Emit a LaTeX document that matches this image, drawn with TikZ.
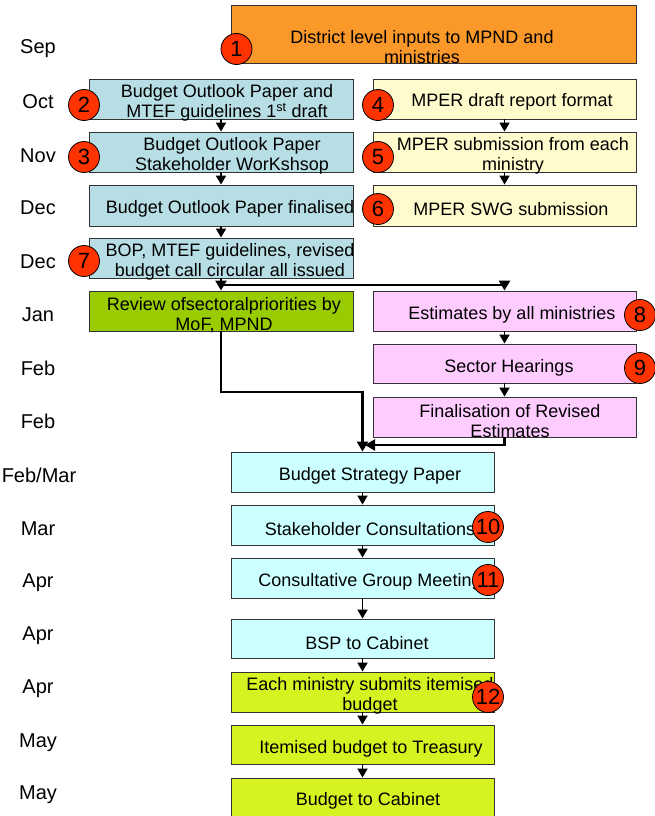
\documentclass[tikz,border=0pt]{standalone}
\usepackage{fontspec}
\setmainfont{Liberation Sans}
\usetikzlibrary{arrows.meta}
\definecolor{cOrange}{RGB}{250,152,42}
\definecolor{cBlue}{RGB}{183,222,228}
\definecolor{cYellow}{RGB}{255,251,204}
\definecolor{cGreen}{RGB}{153,204,0}
\definecolor{cPink}{RGB}{255,204,255}
\definecolor{cCyan}{RGB}{204,255,255}
\definecolor{cLime}{RGB}{214,242,32}
\definecolor{cRed}{RGB}{255,51,0}
\begin{document}
\begin{tikzpicture}[x=1pt,y=-1pt,
  box/.style={draw=black!80, line width=0.9pt, minimum width=263pt, minimum height=40pt, inner sep=0pt},
  txt/.style={font=\fontsize{18}{20.5}\selectfont, align=center, inner sep=0pt, yshift=-2pt},
  month/.style={font=\fontsize{20}{24}\selectfont, inner sep=0pt, yshift=-2pt},
  badge/.style={circle, draw=black, line width=0.8pt, fill=cRed, minimum size=31pt, inner sep=0pt, font=\fontsize{22}{24}\selectfont},
  arr/.style={-{Triangle[width=10pt,length=9pt]}, line width=1.8pt},
  link/.style={line width=2.4pt},
  larr/.style={-{Triangle[width=11pt,length=10pt]}, line width=2.4pt}
]
\useasboundingbox (0,0) rectangle (655,816);

% month labels
\node[month] (m1) at (38,47) {Sep};
\node[month] (m2) at (38,100) {Oct};
\node[month] (m3) at (38,154) {Nov};
\node[month] (m4) at (38,206) {Dec};
\node[month] (m5) at (38,260) {Dec};
\node[month] (m6) at (38,313) {Jan};
\node[month] (m7) at (38,366) {Feb};
\node[month] (m8) at (38,419) {Feb};
\node[month] (m9) at (39,473) {Feb/Mar};
\node[month] (m10) at (38,527) {Mar};
\node[month] (m11) at (38,581) {Apr};
\node[month] (m12) at (38,634) {Apr};
\node[month] (m13) at (38,687) {Apr};
\node[month] (m14) at (38,741) {May};
\node[month] (m15) at (38,793) {May};

% boxes
\node[box, fill=cOrange, minimum width=405pt, minimum height=58pt] (b1) at (433.5,34) {};
\node[box, fill=cBlue, minimum width=264pt] (b2) at (221,99) {};
\node[box, fill=cYellow] (b4) at (504.5,99) {};
\node[box, fill=cBlue, minimum width=264pt] (b3) at (221,152) {};
\node[box, fill=cYellow] (b5) at (504.5,152) {};
\node[box, fill=cBlue, minimum width=264pt, minimum height=41pt] (bd) at (221,205.5) {};
\node[box, fill=cYellow, minimum height=41pt] (b6) at (504.5,205.5) {};
\node[box, fill=cBlue, minimum width=264pt] (b7) at (221,258) {};
\node[box, fill=cGreen, minimum width=264pt] (bg) at (221,311) {};
\node[box, fill=cPink] (b8) at (504.5,311) {};
\node[box, fill=cPink, minimum height=39pt] (b9) at (504.5,363.5) {};
\node[box, fill=cPink] (bf) at (504.5,417) {};
\node[box, fill=cCyan] (bs) at (362.5,472) {};
\node[box, fill=cCyan] (b10) at (362.5,525) {};
\node[box, fill=cCyan] (b11) at (362.5,578) {};
\node[box, fill=cCyan, minimum height=39pt] (bc) at (362.5,638.5) {};
\node[box, fill=cLime] (b12) at (362.5,692) {};
\node[box, fill=cLime, minimum height=39pt] (bt) at (362.5,744.5) {};
\node[box, fill=cLime] (bb) at (362.5,798) {};

% texts
\node[txt] (t1) at (422,45) {District level inputs to MPND and\\ministries};
\node[txt] (t2) at (227,101) {Budget Outlook Paper and\\MTEF guidelines 1\textsuperscript{st} draft};
\node[txt] (t4) at (512,100) {MPER draft report format};
\node[txt] (t3) at (232,154) {Budget Outlook Paper\\Stakeholder WorKshsop};
\node[txt] (t5) at (513,154) {MPER submission from each\\ministry};
\node[txt] (td) at (230,207) {Budget Outlook Paper finalised};
\node[txt] (t6) at (511,207) {MPER SWG submission};
\node[txt] (t7) at (230,260) {BOP, MTEF guidelines, revised\\budget call circular all issued};
\node[txt] (tg) at (224,313) {Review ofsectoralpriorities by\\MoF, MPND};
\node[txt] (t8) at (512,313) {Estimates by all ministries};
\node[txt] (t9) at (509,366) {Sector Hearings};
\node[txt] (tf) at (510,419) {Finalisation of Revised\\Estimates};
\node[txt] (ts) at (370,474) {Budget Strategy Paper};
\node[txt] (t10) at (370,527) {Stakeholder Consultations};
\node[txt] (t11) at (370,580) {Consultative Group Meeting};
\node[txt] (tc) at (367,641) {BSP to Cabinet};
\node[txt] (t12) at (370,694) {Each ministry submits itemised\\budget};
\node[txt] (tt) at (371,747) {Itemised budget to Treasury};
\node[txt] (tb) at (368,799) {Budget to Cabinet};

% connectors
\draw[arr] (b2.south) -- (b3.north);
\draw[arr] (b3.south) -- (bd.north);
\draw[arr] (bd.south) -- (b7.north);
\draw[arr] (b4.south) -- (b5.north);
\draw[arr] (b5.south) -- (b6.north);
\coordinate (split) at (221,285);
\draw[link] (b7.south) -- (split);
\draw[larr] (split) -- (bg.north);
\draw[larr] (split) -| (b8.north);
\draw[arr] (b8.south) -- (b9.north);
\draw[arr] (b9.south) -- (bf.north);
\coordinate (gturn) at (221,392);
\draw[larr] (bg.south) -- (gturn) -| (bs.north);
\coordinate (fturn) at (504.5,445);
\draw[larr] (bf.south) -- (fturn) -- (365,445);
\draw[arr] (bs.south) -- (b10.north);
\draw[arr] (b10.south) -- (b11.north);
\draw[arr] (b11.south) -- (bc.north);
\draw[arr] (bc.south) -- (b12.north);
\draw[arr] (b12.south) -- (bt.north);
\draw[arr] (bt.south) -- (bb.north);

% badges
\node[badge] (c1) at (236.5,49) {1};
\node[badge] (c2) at (84,105) {2};
\node[badge] (c3) at (84,157) {3};
\node[badge] (c4) at (378,105) {4};
\node[badge] (c5) at (378,157) {5};
\node[badge] (c6) at (378,209) {6};
\node[badge] (c7) at (84,261) {7};
\node[badge] (c8) at (640,315) {8};
\node[badge] (c9) at (640,368) {9};
\node[badge] (c10) at (488,527) {10};
\node[badge] (c11) at (488,580) {11};
\node[badge] (c12) at (488,697) {12};
\end{tikzpicture}
\end{document}
